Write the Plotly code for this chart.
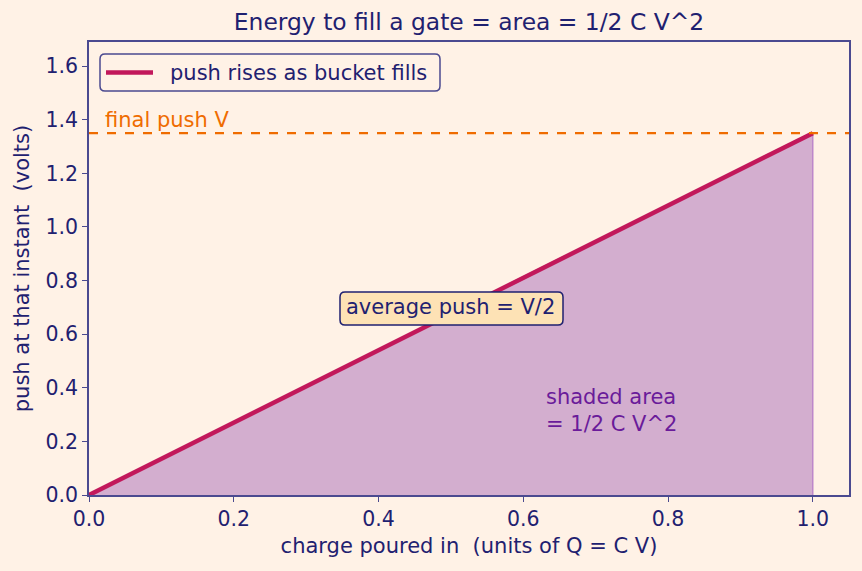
import plotly.graph_objects as go

V = 1.35
charge = [0.0, 1.0]
push = [0.0, 1.35]
x_ticks = [0.0, 0.2, 0.4, 0.6, 0.8, 1.0]
y_ticks = [0.0, 0.2, 0.4, 0.6, 0.8, 1.0, 1.2, 1.4, 1.6]
series_name = "push rises as bucket fills"

NAVY = "#1f2170"
FRAME = "#4b4a90"
BG = "#fff2e6"
CRIMSON = "#c2185b"
FONT = "DejaVu Sans"
FS = 21

W, H = 862, 571
ML, MR, MT, MB = 89, 13, 42, 76
PW, PH = W - ML - MR, H - MT - MB


def px(x):
    return (x - ML) / PW


def py(y):
    return (H - MB - y) / PH


def rounded_rect(x0, y0, x1, y1, r=5):
    # pixel coords -> paper path with rounded corners
    rx, ry = r / PW, r / PH
    X0, X1 = px(x0), px(x1)
    Yt, Yb = py(y0), py(y1)
    return (f"M {X0+rx},{Yt} L {X1-rx},{Yt} Q {X1},{Yt} {X1},{Yt-ry} "
            f"L {X1},{Yb+ry} Q {X1},{Yb} {X1-rx},{Yb} L {X0+rx},{Yb} "
            f"Q {X0},{Yb} {X0},{Yb+ry} L {X0},{Yt-ry} Q {X0},{Yt} {X0+rx},{Yt} Z")


fig = go.Figure()
fig.add_trace(go.Scatter(x=charge, y=push, mode="lines", fill="tozeroy",
                         fillcolor="#d3aecf",
                         line=dict(color="rgba(0,0,0,0)", width=0),
                         showlegend=False, hoverinfo="skip"))
fig.add_trace(go.Scatter(x=[charge[-1], charge[-1]], y=[0, push[-1]], mode="lines",
                         line=dict(color="rgba(180,120,200,0.9)", width=1.3),
                         showlegend=False, hoverinfo="skip"))
fig.add_trace(go.Scatter(x=charge, y=push, mode="lines",
                         line=dict(color=CRIMSON, width=4.5),
                         name=series_name, showlegend=False))
fig.add_shape(type="line", xref="paper", yref="y", x0=0, x1=1, y0=V, y1=V,
              line=dict(color="#ef6c00", width=2.2, dash="dash"))

# legend (drawn manually for matplotlib-like look)
fig.add_shape(type="path", xref="paper", yref="paper", path=rounded_rect(100, 54, 440, 91),
              fillcolor=BG, line=dict(color=FRAME, width=1.5), layer="above")
fig.add_shape(type="line", xref="paper", yref="paper", x0=px(106), x1=px(153),
              y0=py(72.5), y1=py(72.5), line=dict(color=CRIMSON, width=4.5), layer="above")
fig.add_annotation(x=px(168), y=py(72.5), xref="paper", yref="paper", text=series_name,
                   showarrow=False, xanchor="left", yanchor="middle",
                   font=dict(color=NAVY, size=FS, family=FONT))

fig.add_annotation(x=0.02, y=V, xref="x", yref="y", text="final push V",
                   showarrow=False, xanchor="left", yanchor="bottom", yshift=-1,
                   font=dict(color="#ef6c00", size=FS, family=FONT))

# average push box
fig.add_shape(type="path", xref="paper", yref="paper", path=rounded_rect(340, 292, 563, 325),
              fillcolor="#fde2b5", line=dict(color=NAVY, width=1.5), layer="above")
fig.add_annotation(x=0.5, y=0.70, xref="x", yref="y", text="average push = V/2",
                   showarrow=False, xanchor="center", yanchor="middle",
                   font=dict(color=NAVY, size=FS, family=FONT))

fig.add_annotation(x=0.628, y=0.315, xref="x", yref="y", text="shaded area<br>= 1/2 C V^2",
                   showarrow=False, xanchor="left", yanchor="middle", align="left",
                   font=dict(color="#6a1b9a", size=FS, family=FONT))

fig.update_layout(
    width=W, height=H,
    paper_bgcolor=BG, plot_bgcolor=BG,
    margin=dict(l=ML, r=MR, t=MT, b=MB),
    font=dict(family=FONT, color=NAVY, size=FS),
    title=dict(text="Energy to fill a gate = area = 1/2 C V^2", x=(ML + W - MR) / 2 / W,
               xanchor="center", y=1 - 22 / H, yanchor="middle",
               font=dict(size=23.4, color=NAVY, family=FONT)),
    showlegend=False,
    xaxis=dict(range=[0, 1.05], tickvals=x_ticks, ticktext=[f"{v:.1f}" for v in x_ticks],
               showgrid=False, zeroline=False, showline=True, linecolor=FRAME, linewidth=1.5,
               mirror=True, ticks="outside", ticklen=5, tickcolor=FRAME,
               tickfont=dict(size=20.5, color=NAVY),
               title=dict(text="charge poured in  (units of Q = C V)", font=dict(size=FS),
                          standoff=8)),
    yaxis=dict(range=[0, 1.69], tickvals=y_ticks, ticktext=[f"{v:.1f}" for v in y_ticks],
               showgrid=False, zeroline=False, showline=True, linecolor=FRAME, linewidth=1.5,
               mirror=True, ticks="outside", ticklen=5, tickcolor=FRAME,
               tickfont=dict(size=20.5, color=NAVY),
               title=dict(text="push at that instant  (volts)", font=dict(size=FS),
                          standoff=10)),
)

fig.write_html("out.html")
